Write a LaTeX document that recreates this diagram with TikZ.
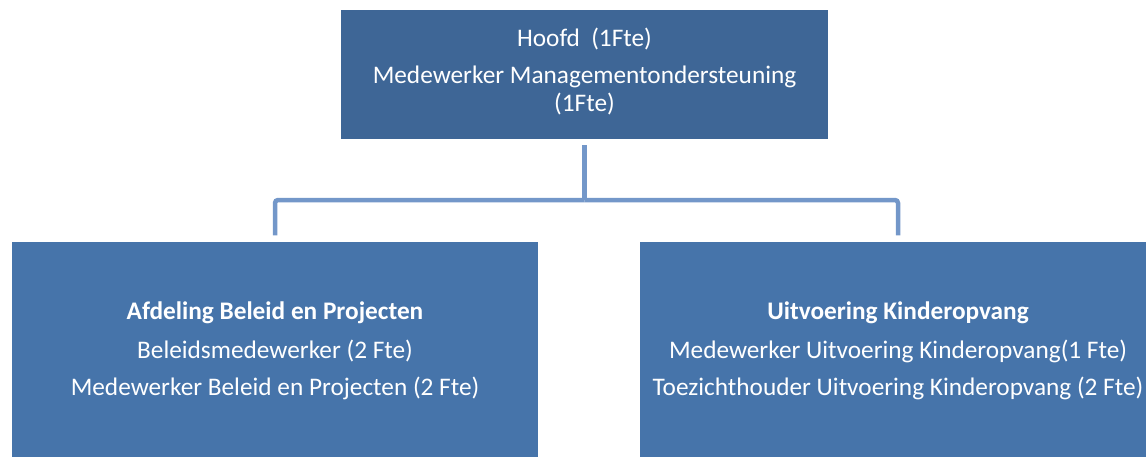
\documentclass[tikz,border=0pt]{standalone}
\usepackage{fontspec}
\setmainfont{Carlito}
\usetikzlibrary{positioning,calc}
\definecolor{headblue}{HTML}{3E6696}
\definecolor{unitblue}{HTML}{4674AA}
\definecolor{linkblue}{HTML}{7397C9}

\begin{document}
\begin{tikzpicture}[x=1pt,y=1pt,
    head/.style={fill=headblue, text=white, align=center, inner sep=0pt,
        text depth=10pt, font=\fontsize{25.3}{28}\selectfont},
    unit/.style={fill=unitblue, text=white, align=center, inner sep=0pt,
        minimum height=218pt, font=\fontsize{25.3}{28}\selectfont},
    link/.style={draw=linkblue, line width=4.5pt, rounded corners=3pt}]
    % Frame
    \useasboundingbox (0,0) rectangle (1146,-456);
    \clip (0,0) rectangle (1146,-456);

    % Boxes
    \node[head, minimum width=487pt, minimum height=129pt] (hoofd) at (584.5,-74.5)
        {Hoofd\ \ (1Fte)\\[9pt] Medewerker Managementondersteuning\\(1Fte)};
    \node[unit, minimum width=526pt] (beleid) at (275,-350.5)
        {\textbf{Afdeling Beleid en Projecten}\\[11pt] Beleidsmedewerker (2 Fte)\\[9pt]
         Medewerker Beleid en Projecten (2 Fte)};
    \node[unit, minimum width=516pt] (uitvoering) at (898,-350.5)
        {\textbf{Uitvoering Kinderopvang}\\[11pt] Medewerker Uitvoering Kinderopvang(1 Fte)\\[9pt]
         Toezichthouder Uitvoering Kinderopvang (2 Fte)};

    % Connectors
    \coordinate (fork) at (584.5,-200);
    \draw[link, shorten <=6pt] (hoofd.south) -- (fork);
    \draw[link, shorten >=6pt] (fork) -| (beleid.north);
    \draw[link, shorten >=6pt] (fork) -| (uitvoering.north);
\end{tikzpicture}
\end{document}
